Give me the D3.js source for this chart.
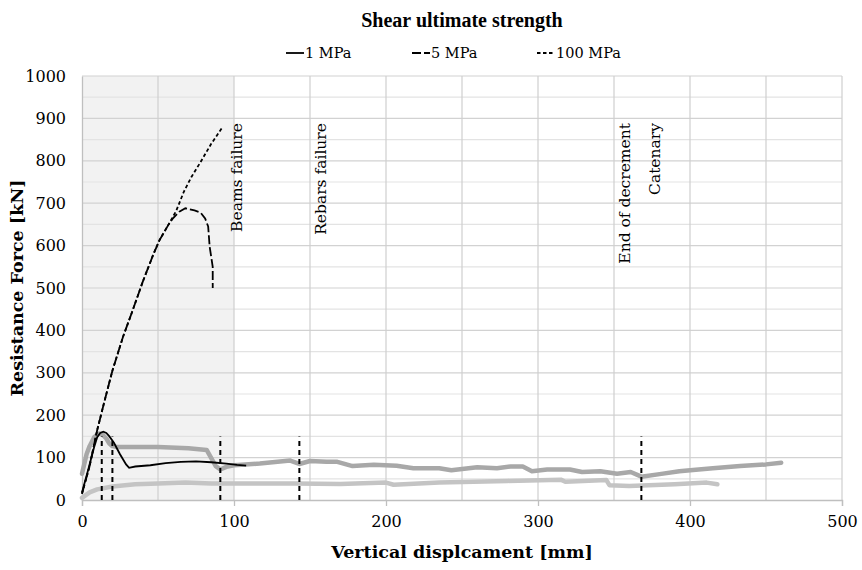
<!DOCTYPE html>
<html>
<head>
<meta charset="utf-8">
<script src="https://cdn.jsdelivr.net/npm/d3@7"></script>
<style>
  body { margin: 0; background: #fff; }
  text { font-family: "DejaVu Serif", serif; fill: #000; }
</style>
</head>
<body>
<svg id="chart" width="862" height="570"></svg>
<script>
// Axis ticks
const xTicks = [0, 100, 200, 300, 400, 500];
const yTicks = [0, 100, 200, 300, 400, 500, 600, 700, 800, 900, 1000];

// Force–displacement curves, [displacement mm, force kN]
const shear1MPa = [[0,18],[4,70],[8,125],[10,148],[12,158],[14,161],[16,158],[18,150],[21,135],[25,108],
  [29,84],[31,76],[35,79],[45,82],[55,87],[65,90],[75,91],[85,89],[95,86],[102,83],[108,81]];
const shear5MPa = [[0,15],[5,80],[10,165],[15,236],[20,305],[27,385],[33,444],[40,515],[47,580],[51,613],
  [57,650],[60,665],[64,680],[68,688],[74,683],[78,678],[81,664],[83,645],[84,597],[86,550],[86,500]];
const shear100MPa = [[0,15],[5,80],[10,165],[15,236],[20,305],[27,385],[33,444],[40,515],[47,580],[51,613],
  [57,650],[62,682],[67,727],[72,762],[78,797],[85,840],[92,877]];
const refUpper = [[0,62],[3,108],[5,127],[8,148],[11,157],[13,156],[16,145],[18,133],[20,127],[23,125],
  [50,125],[70,122],[82,118],[88,80],[91,72],[95,78],[100,82],[117,86],[137,93],[143,85],[150,92],
  [161,90],[168,90],[178,80],[192,83],[207,81],[218,75],[235,75],[243,70],[260,77],[273,75],[282,79],
  [290,79],[296,68],[306,72],[321,72],[329,66],[341,68],[352,62],[361,66],[368,55],[380,61],[393,68],
  [402,71],[415,75],[433,80],[450,84],[460,88]];
const refLower = [[0,5],[5,18],[10,25],[20,32],[35,37],[50,39],[68,41],[85,39],[140,39],[170,38],
  [200,41],[205,36],[235,41],[280,45],[315,48],[318,43],[345,47],[347,35],[360,33],[390,37],[411,41],[418,37]];

// Event markers and their labels
const markerDisp = [13, 20, 91, 143, 368];
const markerForce = 150;
const eventNames = ["Beams failure", "Rebars failure", "End of decrement", "Catenary"];
const eventDisp = [102, 157, 357, 377];
const eventForce = 889;
const shadedRange = [0, 100];

const legendNames = ["1 MPa", "5 MPa", "100 MPa"];

const svg = d3.select("#chart");
const x = d3.scaleLinear().domain([0, 500]).range([82, 842]);
const y = d3.scaleLinear().domain([0, 1000]).range([500, 76]);

// shaded zone
svg.append("rect")
  .attr("x", x(shadedRange[0])).attr("y", y(1000))
  .attr("width", x(shadedRange[1]) - x(shadedRange[0]))
  .attr("height", y(0) - y(1000))
  .attr("fill", "#f2f2f2");

// gridlines
const g = svg.append("g");
g.selectAll(".hminor").data(d3.range(50, 1001, 100)).join("line")
  .attr("x1", x(0)).attr("x2", x(500)).attr("y1", d => y(d)).attr("y2", d => y(d))
  .attr("stroke", "#e3e3e3").attr("stroke-width", 1.2);
g.selectAll(".hmajor").data(yTicks.slice(1)).join("line")
  .attr("x1", x(0)).attr("x2", x(500)).attr("y1", d => y(d)).attr("y2", d => y(d))
  .attr("stroke", "#d2d2d2").attr("stroke-width", 1.2);
g.selectAll(".vgrid").data(d3.range(50, 501, 50)).join("line")
  .attr("y1", y(0)).attr("y2", y(1000)).attr("x1", d => x(d)).attr("x2", d => x(d))
  .attr("stroke", "#cfcfcf").attr("stroke-width", 1.2);

// axes
const xAxis = svg.append("g").attr("transform", `translate(0,${y(0)})`)
  .call(d3.axisBottom(x).tickValues(xTicks).tickFormat(d3.format("d")).tickSize(6).tickPadding(10));
xAxis.select(".domain").attr("stroke", "#bfbfbf").attr("stroke-width", 1.3);
xAxis.selectAll(".tick line").attr("stroke", "#bfbfbf").attr("stroke-width", 1.3);
xAxis.selectAll("text").style("font-size", "16px").style("font-family", "DejaVu Serif");

const yAxis = svg.append("g").attr("transform", `translate(${x(0)},0)`)
  .call(d3.axisLeft(y).tickValues(yTicks).tickFormat(d3.format("d")).tickSize(0).tickPadding(16));
yAxis.select(".domain").attr("stroke", "#bfbfbf").attr("stroke-width", 1.3);
yAxis.selectAll("text").style("font-size", "16px").style("font-family", "DejaVu Serif");

const line = d3.line().x(d => x(d[0])).y(d => y(d[1])).curve(d3.curveLinear);

// grey reference curves
svg.append("path").datum(refLower).attr("d", line).attr("fill", "none")
  .attr("stroke", "#c4c4c4").attr("stroke-width", 4.5).attr("stroke-linejoin", "round").attr("stroke-linecap", "round");
svg.append("path").datum(refUpper).attr("d", line).attr("fill", "none")
  .attr("stroke", "#a8a8a8").attr("stroke-width", 4.5).attr("stroke-linejoin", "round").attr("stroke-linecap", "round");

// event markers
svg.selectAll(".marker").data(markerDisp).join("line")
  .attr("x1", d => x(d)).attr("x2", d => x(d)).attr("y1", y(0)).attr("y2", y(markerForce))
  .attr("stroke", "#000").attr("stroke-width", 2).attr("stroke-dasharray", "5,4");

// black curves
const styles = [
  { data: shear1MPa, dash: null, w: 1.8 },
  { data: shear5MPa, dash: "9,3", w: 1.8 },
  { data: shear100MPa, dash: "3.5,2.5", w: 1.8 }
];
styles.forEach(s => {
  svg.append("path").datum(s.data).attr("d", line).attr("fill", "none")
    .attr("stroke", "#000").attr("stroke-width", s.w)
    .attr("stroke-dasharray", s.dash);
});

// event labels
eventNames.forEach((name, i) => {
  svg.append("text")
    .attr("transform", `translate(${x(eventDisp[i])},${y(eventForce)}) rotate(-90)`)
    .attr("text-anchor", "end").attr("dy", "0.35em")
    .style("font-size", "15.5px")
    .text(name);
});

// title
svg.append("text").attr("x", x(250)).attr("y", 27).attr("text-anchor", "middle")
  .style("font-family", "'Liberation Serif', serif")
  .style("font-size", "20px").style("font-weight", "bold").text("Shear ultimate strength");

// legend
const legendX = [286, 412, 537];
legendNames.forEach((name, i) => {
  const lg = svg.append("g").attr("transform", `translate(${legendX[i]},53)`);
  lg.append("line").attr("x1", 0).attr("x2", 18).attr("y1", 0).attr("y2", 0)
    .attr("stroke", "#000").attr("stroke-width", 1.8)
    .attr("stroke-dasharray", styles[i].dash);
  lg.append("text").attr("x", 19).attr("dy", "0.35em")
    .style("font-size", "14.5px").text(name);
});

// axis titles
svg.append("text").attr("x", x(250)).attr("y", 558).attr("text-anchor", "middle")
  .style("font-size", "17.5px").style("font-weight", "bold").text("Vertical displcament [mm]");
svg.append("text").attr("transform", `translate(17,${y(500)}) rotate(-90)`)
  .attr("text-anchor", "middle").attr("dy", "0.35em")
  .style("font-size", "17.5px").style("font-weight", "bold").text("Resistance Force [kN]");
</script>
</body>
</html>
